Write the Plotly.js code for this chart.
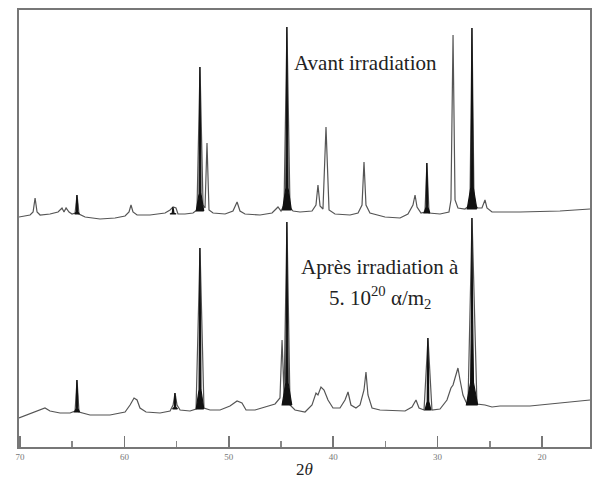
<!DOCTYPE html>
<html>
<head>
<meta charset="utf-8">
<script src="https://cdn.plot.ly/plotly-3.0.1.min.js"></script>
<style>html,body{margin:0;padding:0;background:#fff;}#chart{width:595px;height:479px;}</style>
</head>
<body>
<div id="chart"></div>
<script>
// 2θ (degrees) and intensity (arbitrary units)
const avantTheta = [70.10,69.04,68.75,68.56,68.37,68.08,67.13,66.36,65.98,65.79,65.59,65.31,65.02,64.73,64.54,64.35,63.77,62.34,60.90,59.94,59.56,59.37,59.18,58.79,57.55,56.11,55.63,55.34,55.06,54.87,54.20,53.43,53.05,52.76,52.47,52.28,52.09,51.90,51.51,50.36,49.60,49.21,48.93,48.45,47.01,45.86,45.48,45.29,45.00,44.71,44.43,44.14,43.85,43.18,42.03,41.65,41.46,41.26,40.98,40.69,40.40,39.83,38.39,37.62,37.24,37.05,36.86,36.48,35.04,33.60,32.84,32.36,32.16,31.97,31.59,31.21,31.02,30.82,29.77,28.91,28.72,28.52,28.33,28.05,27.38,26.90,26.70,26.51,26.13,25.75,25.46,25.27,24.79,22.11,18.28,15.40];
const avantInt = [230,232,235,249,235,232,233,235,239,235,239,235,233,234,252,233,230,228,229,231,235,242,235,232,232,234,237,240,239,233,233,234,237,380,242,239,304,237,234,233,236,245,236,233,232,234,238,240,236,242,420,239,236,235,236,242,262,241,238,320,237,233,232,234,242,285,242,234,230,229,233,242,252,240,234,235,284,234,233,235,247,412,247,239,238,242,419,242,239,239,247,239,235,235,236,238];

const apresTheta = [70.10,69.04,68.08,67.61,67.13,66.17,65.21,64.73,64.54,64.35,63.30,61.38,59.94,59.46,59.08,58.79,58.51,57.93,56.59,55.63,55.34,55.15,54.96,54.67,53.72,53.14,52.76,52.38,51.80,50.84,49.89,49.21,48.74,48.35,47.49,46.53,45.57,45.10,44.90,44.71,44.43,44.14,43.66,42.70,42.03,41.65,41.46,41.17,40.88,40.50,40.02,39.35,38.87,38.58,38.30,37.82,37.43,37.05,36.86,36.67,36.28,35.52,34.08,33.12,32.45,32.07,31.78,31.30,30.92,30.54,29.77,29.10,28.72,28.52,28.33,28.05,27.85,27.57,27.28,27.09,26.70,26.23,25.46,24.79,24.02,21.15,18.28,15.40];
const apresInt = [29,33,37,39,36,34,34,36,67,35,32,32,35,42,49,47,39,35,34,36,42,54,42,37,36,38,199,39,37,37,41,46,44,37,37,40,43,49,107,52,225,42,37,35,42,54,52,60,57,47,39,39,47,55,42,39,42,57,75,52,39,37,36,36,40,47,39,37,109,37,38,47,59,62,69,79,67,52,45,42,229,43,42,40,41,41,44,47];

// dark (filled) reflections: position, top, local baseline, half base width (degrees)
const avantDarkPos = [64.54,55.34,52.76,44.43,31.02,26.70];
const avantDarkTop = [252,240,380,420,284,419];
const avantDarkBase = [233,233,236,237,234,238];
const avantDarkHW = [0.22,0.30,0.36,0.42,0.28,0.46];

const apresDarkPos = [64.54,55.15,52.76,44.43,30.92,26.70];
const apresDarkTop = [67,54,199,225,109,229];
const apresDarkBase = [35,38,38,42,37,42];
const apresDarkHW = [0.24,0.24,0.36,0.46,0.28,0.54];

const tickVals = [70,60,50,40,30,20];
const tickText = ['70','60','50','40','30','20'];
const minorTickVals = [65,55,45,35,25];

function darkTraces(pos, top, base, hw) {
  return pos.map((p, i) => {
    const h = top[i] - base[i];
    return {
      x: [p - hw[i], p - hw[i]*0.25, p - 0.05, p - 0.015, p + 0.015, p + 0.05, p + hw[i]*0.25, p + hw[i], p - hw[i]],
      y: [base[i], base[i] + 0.12*h, base[i] + 0.5*h, top[i], top[i], base[i] + 0.5*h, base[i] + 0.12*h, base[i], base[i]],
      type: 'scatter', mode: 'lines', fill: 'toself',
      fillcolor: '#111', line: {color: '#111', width: 1.2},
      hoverinfo: 'skip', showlegend: false
    };
  });
}

const traces = [
  {x: avantTheta, y: avantInt, type: 'scatter', mode: 'lines', line: {color: '#555', width: 1.2}, showlegend: false},
  {x: apresTheta, y: apresInt, type: 'scatter', mode: 'lines', line: {color: '#555', width: 1.2}, showlegend: false}
].concat(darkTraces(avantDarkPos, avantDarkTop, avantDarkBase, avantDarkHW))
 .concat(darkTraces(apresDarkPos, apresDarkTop, apresDarkBase, apresDarkHW));

const layout = {
  width: 595, height: 479,
  margin: {l: 19, r: 5, t: 10, b: 32},
  paper_bgcolor: '#fff', plot_bgcolor: '#fff',
  font: {family: 'Liberation Serif, serif', color: '#222'},
  xaxis: {
    range: [70.1, 15.4], tickmode: 'array', tickvals: tickVals, ticktext: tickText,
    ticks: 'inside', ticklen: 11, tickwidth: 1.5, tickcolor: '#777',
    minor: {tickmode: 'array', tickvals: minorTickVals, ticks: 'inside', ticklen: 6, tickwidth: 1.5, tickcolor: '#888', showgrid: false},
    showgrid: false, zeroline: false,
    showline: true, mirror: true, linecolor: '#777', linewidth: 2,
    tickfont: {size: 9, color: '#777', family: 'Liberation Serif, serif'},
    title: {text: '2<i>θ</i>', font: {size: 17, color: '#222', family: 'Liberation Serif, serif'}, standoff: 2}
  },
  yaxis: {
    range: [0, 437], showticklabels: false, ticks: '', showgrid: false, zeroline: false,
    showline: true, mirror: true, linecolor: '#777', linewidth: 2
  },
  annotations: [
    {x: 36.9, y: 384, xref: 'x', yref: 'y', text: 'Avant irradiation', showarrow: false,
     font: {size: 21, family: 'Liberation Serif, serif', color: '#222'}},
    {x: 35.5, y: 180, xref: 'x', yref: 'y', text: 'Après irradiation à', showarrow: false,
     font: {size: 21, family: 'Liberation Serif, serif', color: '#222'}},
    {x: 35.5, y: 150, xref: 'x', yref: 'y', text: '5. 10<sup>20</sup> α/m<sub>2</sub>', showarrow: false,
     font: {size: 21, family: 'Liberation Serif, serif', color: '#222'}}
  ]
};

Plotly.newPlot('chart', traces, layout, {displayModeBar: false, staticPlot: true});
</script>
</body>
</html>
